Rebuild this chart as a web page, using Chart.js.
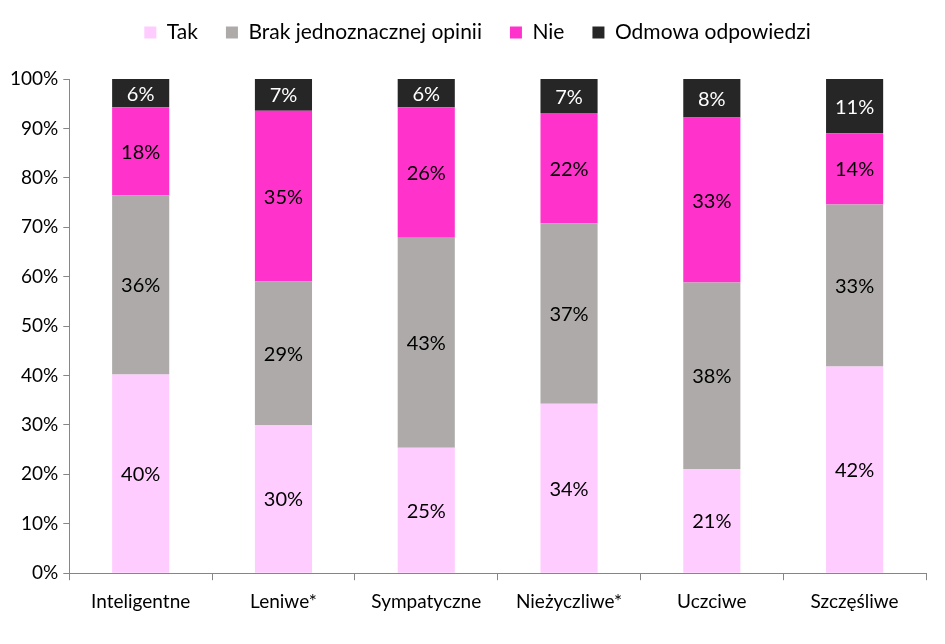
<!DOCTYPE html>
<html>
<head>
<meta charset="utf-8">
<script src="https://cdn.jsdelivr.net/npm/chart.js@4"></script>
<style>
html,body{margin:0;padding:0;background:#fff;}
canvas{display:block;}
</style>
</head>
<body>
<canvas id="c" width="945" height="644"></canvas>
<script>
const categories = ["Inteligentne", "Leniwe*", "Sympatyczne", "Nieżyczliwe*", "Uczciwe", "Szczęśliwe"];
const seriesNames = ["Tak", "Brak jednoznacznej opinii", "Nie", "Odmowa odpowiedzi"];
const tak = [40.2, 30.0, 25.4, 34.3, 21.1, 41.8];
const brak = [36.3, 29.0, 42.5, 36.5, 37.7, 32.8];
const nie = [17.8, 34.6, 26.4, 22.3, 33.4, 14.4];
const odmowa = [5.7, 6.5, 5.7, 6.9, 7.8, 11.0];
const colors = ["#FFCCFF", "#AEAAAA", "#FF33CC", "#262626"];
const labelColors = ["#000000", "#000000", "#000000", "#FFFFFF"];

const FONT = "Lato, 'Open Sans', sans-serif";

const valueLabels = {
  id: "valueLabels",
  afterDatasetsDraw(chart) {
    const ctx = chart.ctx;
    ctx.save();
    ctx.font = "20px " + FONT;
    ctx.textAlign = "center";
    ctx.textBaseline = "middle";
    chart.data.datasets.forEach((ds, i) => {
      const meta = chart.getDatasetMeta(i);
      meta.data.forEach((el, j) => {
        const p = el.getCenterPoint();
        ctx.fillStyle = labelColors[i];
        ctx.fillText(Math.round(ds.data[j]) + "%", p.x, p.y + 1);
      });
    });
    ctx.restore();
  }
};

const legendMargin = {
  id: "legendMargin",
  beforeInit(chart) {
    const orig = chart.legend.fit;
    chart.legend.fit = function () {
      orig.call(this);
      this.height += 22;
    };
  },
  afterLayout(chart) {
    chart.legend.top -= 4;
    chart.legend.bottom -= 4;
    chart.legend.left += 12;
    chart.legend.right += 12;
  }
};

const seriesData = [tak, brak, nie, odmowa];
new Chart(document.getElementById("c"), {
  type: "bar",
  data: {
    labels: categories,
    datasets: seriesData.map((d, i) => ({
      label: seriesNames[i],
      data: d,
      backgroundColor: colors[i],
      borderWidth: 0,
      barPercentage: 0.8,
      categoryPercentage: 0.5
    }))
  },
  options: {
    responsive: false,
    animation: false,
    layout: { padding: { left: 5, right: 19, top: -2, bottom: 21 } },
    plugins: {
      legend: {
        position: "top",
        labels: {
          font: { family: FONT, size: 21 },
          color: "#000",
          boxWidth: 12,
          boxHeight: 12,
          padding: 28
        }
      },
      tooltip: { enabled: false }
    },
    scales: {
      x: {
        stacked: true,
        grid: { display: true, drawOnChartArea: false, drawTicks: true, tickLength: 7, color: "#868686", offset: true },
        border: { color: "#868686", width: 1 },
        ticks: { font: { family: FONT, size: 19 }, color: "#000", padding: 10 }
      },
      y: {
        stacked: true,
        min: 0,
        max: 100,
        grid: { display: true, drawOnChartArea: false, drawTicks: true, tickLength: 6, color: "#868686" },
        border: { color: "#868686", width: 1 },
        ticks: {
          stepSize: 10,
          font: { family: FONT, size: 19 },
          color: "#000",
          padding: 5,
          callback: v => v + "%"
        }
      }
    }
  },
  plugins: [valueLabels, legendMargin]
});
</script>
</body>
</html>
